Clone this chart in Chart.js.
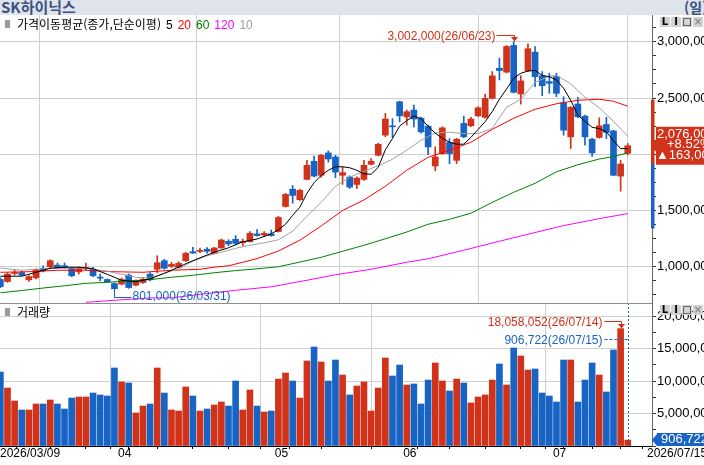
<!DOCTYPE html>
<html lang="ko">
<head>
<meta charset="utf-8">
<title>SK하이닉스</title>
<script src="https://cdn.jsdelivr.net/npm/chart.js@4.4.1/dist/chart.umd.min.js"></script>
<style>
  html, body { margin: 0; padding: 0; }
  body { width: 704px; height: 465px; overflow: hidden; position: relative; background: #fff;
         font-family: 'Liberation Sans', Arial, 'Noto Sans CJK KR', sans-serif; }
  .abs { position: absolute; }
  canvas { position: absolute; left: 0; }
  #titlebar { left: 0; top: 0; width: 704px; height: 15px; background: #dfe4ec; overflow: hidden; }
  #titlebar .name { left: 1px; top: 0; font: bold 15px/14px 'Noto Sans CJK KR', sans-serif; color: #3b5382; white-space: nowrap; }
  #titlebar .period { left: 684px; top: 0; font: bold 14px/14px 'Noto Sans CJK KR', sans-serif; color: #3b5382; white-space: nowrap; }
  .legend { font-size: 12px; line-height: 12px; white-space: nowrap; color: #000; }
  .legend .kr { font-family: 'Noto Sans CJK KR', sans-serif; }
  .legend .n { margin-left: 5px; }
  .sq { width: 5px; height: 8px; background: #9a9a9a; }
  .icon { width: 10px; height: 10px; background: #d2d2d2; font: bold 10px/10px 'DejaVu Sans', sans-serif;
          text-align: center; color: #000; overflow: hidden; }
</style>
</head>
<body>
<div id="titlebar" class="abs"><span class="abs name">SK하이닉스</span><span class="abs period">(일)</span></div>
<canvas id="priceChart" width="704" height="288" style="top:15px"></canvas>
<canvas id="volChart" width="704" height="162" style="top:303px"></canvas>
<div class="abs" style="left:0;top:303px;width:652px;height:1px;background:#8e8e8e"></div>

<div class="abs sq" style="left:5px;top:20px"></div>
<div class="abs legend" style="left:17px;top:18px"><span class="kr">가격이동평균(종가,단순이평)</span><span class="n">5</span><span class="n" style="color:#f00">20</span><span class="n" style="color:#008000">60</span><span class="n" style="color:#f0f">120</span><span class="n" style="color:#a0a0a0">10</span></div>
<div class="abs sq" style="left:5px;top:308px"></div>
<div class="abs legend" style="left:17px;top:306px"><span class="kr">거래량</span></div>

<div class="abs icon" style="left:660px;top:17px">L</div>
<div class="abs icon" style="left:671px;top:17px">I</div>
<div class="abs icon" style="left:682px;top:17px">□</div>
<div class="abs icon" style="left:693px;top:17px;color:#888">×</div>
<div class="abs icon" style="left:660px;top:305px">L</div>
<div class="abs icon" style="left:671px;top:305px">I</div>
<div class="abs icon" style="left:682px;top:305px">□</div>
<div class="abs icon" style="left:693px;top:305px;color:#888">×</div>

<script>
// 거래일 (2026)
const tradingDays = {
  '03': [9,10,11,12,13,16,17,18,19,20,23,24,25,26,27,30,31],
  '04': [1,2,3,6,7,8,9,10,13,14,15,16,17,20,21,22,23,24,27,28,29,30],
  '05': [4,6,7,8,11,12,13,14,15,18,19,20,21,22,26,27,28,29],
  '06': [1,2,4,5,8,9,10,11,12,15,16,17,18,19,22,23,24,25,26,29,30],
  '07': [1,2,3,6,7,8,9,10,13,14,15]
};

const opens = [
  887000, 869000, 940000, 949000, 884000, 902000, 985000, 1000000, 1015000, 1009000,
  985000, 955000, 985000, 979000, 904000, 887000, 851000, 846000, 926000, 837000,
  860000, 935000, 978000, 1054000, 1003000, 994000, 1054000, 1134000, 1137000, 1156000,
  1119000, 1167000, 1226000, 1244000, 1214000, 1223000, 1292000, 1283000, 1292000, 1313000,
  1536000, 1690000, 1596000, 1777000, 1938000, 1813000, 2012000, 1976000, 1813000, 1797000,
  1732000, 1777000, 1911000, 1991000, 2170000, 2250000, 2467000, 2333000, 2393000, 2321000,
  2250000, 1896000, 2005000, 2105000, 1946000, 2274000, 2253000, 2342000, 2328000, 2497000,
  2765000, 2730000, 2967000, 2536000, 2744000, 2908000, 2697000, 2646000, 2690000, 2458000,
  2155000, 2447000, 2339000, 2134000, 2149000, 2265000, 2208000, 1806000, 2009000
];
const highs = [
  902000, 949000, 973000, 960000, 922000, 982000, 1009000, 1062000, 1033000, 1033000,
  995000, 1000000, 1033000, 994000, 935000, 893000, 858000, 900000, 937000, 884000,
  904000, 949000, 1098000, 1067000, 1040000, 1045000, 1128000, 1172000, 1167000, 1170000,
  1174000, 1246000, 1241000, 1277000, 1247000, 1313000, 1330000, 1313000, 1327000, 1449000,
  1652000, 1723000, 1688000, 1946000, 1985000, 2000000, 2030000, 1991000, 1887000, 1808000,
  1799000, 1946000, 1962000, 2098000, 2363000, 2317000, 2473000, 2393000, 2438000, 2330000,
  2259000, 2067000, 2244000, 2140000, 2143000, 2339000, 2328000, 2422000, 2536000, 2735000,
  2855000, 2967000, 3002000, 2699000, 2982000, 2958000, 2735000, 2721000, 2721000, 2512000,
  2424000, 2506000, 2348000, 2143000, 2324000, 2328000, 2214000, 1946000, 2096000
];
const lows = [
  815000, 862000, 926000, 920000, 869000, 893000, 955000, 991000, 985000, 985000,
  911000, 935000, 973000, 911000, 875000, 862000, 801000, 839000, 808000, 830000,
  851000, 875000, 946000, 978000, 994000, 991000, 1045000, 1119000, 1125000, 1122000,
  1116000, 1165000, 1188000, 1196000, 1188000, 1219000, 1272000, 1268000, 1272000, 1308000,
  1530000, 1565000, 1589000, 1772000, 1799000, 1795000, 1931000, 1792000, 1732000, 1696000,
  1694000, 1768000, 1906000, 1985000, 2155000, 2149000, 2288000, 2259000, 2244000, 2188000,
  1997000, 1853000, 2000000, 1917000, 1917000, 2147000, 2246000, 2335000, 2321000, 2491000,
  2661000, 2723000, 2545000, 2446000, 2737000, 2601000, 2521000, 2542000, 2512000, 2170000,
  2051000, 2326000, 2080000, 1982000, 2143000, 2140000, 1808000, 1672000, 1995000
];
const closes = [
  824000, 935000, 949000, 926000, 913000, 973000, 964000, 1054000, 991000, 991000,
  920000, 985000, 994000, 920000, 899000, 866000, 805000, 887000, 815000, 875000,
  890000, 884000, 1036000, 987000, 1021000, 1031000, 1119000, 1122000, 1146000, 1137000,
  1167000, 1238000, 1203000, 1208000, 1226000, 1297000, 1277000, 1297000, 1277000, 1438000,
  1643000, 1634000, 1679000, 1902000, 1806000, 1991000, 1958000, 1842000, 1837000, 1708000,
  1788000, 1902000, 1938000, 2089000, 2313000, 2244000, 2342000, 2378000, 2313000, 2199000,
  2065000, 1976000, 2235000, 2006000, 2134000, 2155000, 2313000, 2413000, 2497000, 2697000,
  2744000, 2958000, 2551000, 2652000, 2938000, 2690000, 2610000, 2631000, 2542000, 2214000,
  2417000, 2333000, 2155000, 2012000, 2253000, 2194000, 1813000, 1913000, 2076000
];
const volumes = [
  11380000, 8920000, 6920000, 5540000, 5540000, 6460000, 6460000, 7080000, 6460000, 5690000,
  7380000, 7540000, 7540000, 8150000, 7850000, 7690000, 12000000, 9850000, 9690000, 5080000,
  6150000, 6460000, 12000000, 8150000, 5540000, 5380000, 9080000, 7690000, 5380000, 5690000,
  6310000, 6770000, 6150000, 10000000, 5540000, 8620000, 6150000, 5230000, 5380000, 10300000,
  11230000, 10000000, 7380000, 13080000, 15230000, 12920000, 10000000, 13230000, 10920000, 7850000,
  9230000, 9850000, 5380000, 8920000, 13540000, 10770000, 12460000, 9380000, 9540000, 6460000,
  10150000, 12770000, 10000000, 8460000, 10300000, 9690000, 6620000, 7540000, 7850000, 10150000,
  12620000, 9380000, 15080000, 13850000, 11690000, 11850000, 8150000, 7690000, 6770000, 13230000,
  13230000, 6770000, 10150000, 12770000, 10920000, 8310000, 14770000, 18058052, 906722
];

// 이동평균선 (그림에서 읽은 값: [봉 index, 값])
const ma5 = [[0,916000],[1,916000],[3,916000],[5,951000],[7,987000],[9,996000],[11,996000],[13,982000],[15,933000],[17,880000],[19,867000],[21,893000],[23,942000],[24,969000],[26,1027000],[28,1080000],[30,1129000],[32,1169000],[34,1222000],[36,1247000],[38,1293000],[39,1329000],[40,1378000],[41,1458000],[42,1529000],[43,1653000],[44,1747000],[45,1813000],[46,1858000],[47,1889000],[48,1889000],[49,1880000],[50,1858000],[51,1827000],[52,1822000],[53,1884000],[54,2040000],[55,2140000],[56,2250000],[57,2300000],[58,2340000],[59,2316000],[60,2249000],[61,2187000],[62,2142000],[63,2107000],[64,2089000],[65,2090000],[66,2150000],[67,2220000],[68,2290000],[69,2380000],[70,2490000],[71,2580000],[72,2675000],[73,2720000],[74,2740000],[75,2745000],[76,2700000],[77,2690000],[78,2660000],[79,2587000],[80,2480000],[81,2347000],[82,2293000],[83,2240000],[84,2228000],[85,2200000],[86,2120000],[87,2050000],[88,2051000]];
const ma10 = [[0,989000],[3,969000],[6,982000],[9,989000],[12,989000],[15,960000],[17,933000],[19,907000],[21,898000],[23,942000],[25,982000],[27,1049000],[29,1098000],[31,1129000],[33,1164000],[35,1191000],[37,1213000],[39,1240000],[41,1316000],[43,1449000],[45,1573000],[47,1716000],[49,1796000],[51,1849000],[53,1898000],[55,1956000],[57,2036000],[59,2124000],[61,2191000],[63,2196000],[65,2184000],[67,2184000],[69,2231000],[71,2418000],[73,2489000],[75,2640000],[77,2693000],[78,2702000],[80,2627000],[82,2507000],[84,2413000],[86,2293000],[88,2160000]];
const ma20 = [[0,951000],[4,956000],[8,969000],[12,969000],[16,956000],[20,951000],[24,969000],[28,978000],[30,996000],[32,1009000],[34,1040000],[36,1073000],[39,1140000],[42,1236000],[45,1363000],[48,1500000],[51,1594000],[54,1716000],[57,1858000],[60,1973000],[63,2036000],[66,2107000],[69,2222000],[72,2320000],[75,2400000],[78,2449000],[81,2480000],[84,2489000],[86,2471000],[88,2427000]];
const ma60 = [[0,769000],[3,789000],[6,811000],[9,831000],[12,853000],[15,862000],[18,874000],[21,886000],[24,907000],[27,924000],[30,947000],[33,966000],[36,982000],[39,1000000],[42,1042000],[45,1084000],[48,1138000],[51,1191000],[54,1249000],[57,1309000],[60,1378000],[63,1422000],[66,1476000],[69,1573000],[72,1662000],[75,1742000],[78,1844000],[81,1907000],[84,1958000],[86,1980000],[88,2013000]];
const ma120 = [[12,684000],[15,698000],[21,723000],[24,724000],[29,762000],[33,791000],[38,822000],[43,880000],[47,929000],[52,978000],[57,1040000],[60,1071000],[65,1147000],[70,1227000],[74,1289000],[79,1366000],[84,1428000],[88,1473000]];

const prevClose = 1913000;
const priceChange = 163000;
const changePct = '+8.52%';
const upperLimit = 2486000;
const lowerLimit = 1340000;

const priceTicksMajor = [1000000, 1500000, 2000000, 2500000, 3000000];
const volTicks = [0, 2500000, 5000000, 7500000, 10000000, 12500000, 15000000, 17500000, 20000000];

const RED = '#d0321a', BLUE = '#1764c4';
const FAMILY = "'Liberation Sans', Arial, sans-serif";
const FONT = "12px " + FAMILY;
const GRID = '#d0d0d0';
const X_MIN = -0.05, X_MAX = 91.4;

const dates = [];
Object.entries(tradingDays).forEach(([m, days]) =>
  days.forEach(d => dates.push(`2026/${m}/${String(d).padStart(2, '0')}`)));
const shortDate = i => dates[i].slice(2);
const fmt = v => v.toLocaleString('en-US');

const monthStarts = dates.map((d, i) => i).filter(i => i > 0 && dates[i].slice(5, 7) !== dates[i - 1].slice(5, 7));
const mondays = dates.map((d, i) => i).filter(i => {
  const [y, m, dd] = dates[i].split('/').map(Number);
  return i > 0 && !monthStarts.includes(i) && new Date(y, m - 1, dd).getDay() === 1;
});

const up = closes.map((c, i) => c >= opens[i]);
const candleColor = up.map(u => u ? RED : BLUE);

const xTicksPrice = monthStarts.map(i => ({ value: i - 0.5, label: '', grid: true }));
const xTicksVol = [
  { value: X_MIN, label: dates[0], grid: false },
  ...monthStarts.map(i => ({ value: i - 0.5, label: dates[i].slice(5, 7), grid: true })),
  ...mondays.map(i => ({ value: i - 0.5, label: '', grid: false })),
  { value: dates.length - 0.5, label: '', grid: false }
].sort((a, b) => a.value - b.value);

const priceMinor = [];
for (let v = 750000; v <= 3125000; v += 125000) priceMinor.push(v);

const line = (data, color) => ({
  type: 'line', data: data.map(([x, y]) => ({ x, y })), borderColor: color,
  borderWidth: 1, pointRadius: 0, tension: 0, fill: false, order: 0
});

// 축 라벨 때문에 생기는 여백 제거
const noPad = s => { s.paddingTop = 0; s.paddingBottom = 0; s.paddingLeft = 0; s.paddingRight = 0; };

function arrowDown(ctx, x, yTip, color) {
  ctx.fillStyle = color;
  ctx.beginPath();
  ctx.moveTo(x - 3.5, yTip - 4.5);
  ctx.lineTo(x + 3.5, yTip - 4.5);
  ctx.lineTo(x, yTip);
  ctx.closePath();
  ctx.fill();
}

function tagBox(ctx, yTip, top, bottom, left, right, color) {
  ctx.fillStyle = color;
  ctx.beginPath();
  ctx.moveTo(left - 5, yTip);
  ctx.lineTo(left, yTip - 6);
  ctx.lineTo(left, top);
  ctx.lineTo(right, top);
  ctx.lineTo(right, bottom);
  ctx.lineTo(left, bottom);
  ctx.lineTo(left, yTip + 6);
  ctx.closePath();
  ctx.fill();
}

const priceDeco = {
  id: 'priceDeco',
  afterDraw(chart) {
    const { ctx, scales: { x, y } } = chart;
    ctx.save();
    ctx.font = FONT;
    ctx.lineWidth = 1;

    // 상/하한가 막대
    const yu = y.getPixelForValue(upperLimit), yp = y.getPixelForValue(prevClose), yl = y.getPixelForValue(lowerLimit);
    ctx.fillStyle = RED; ctx.fillRect(651, yu, 3.5, yp - yu);
    ctx.fillStyle = BLUE; ctx.fillRect(651, yp, 3.5, yl - yp);

    // 최고가
    const hi = highs.indexOf(Math.max(...highs));
    const hx = Math.round(x.getPixelForValue(hi)) + 0.5;
    const hy = y.getPixelForValue(highs[hi]);
    const hly = Math.round(hy - 7) + 0.5;
    ctx.strokeStyle = RED;
    ctx.beginPath(); ctx.moveTo(hx - 18, hly); ctx.lineTo(hx, hly); ctx.lineTo(hx, hy - 4); ctx.stroke();
    arrowDown(ctx, hx, hy, RED);
    ctx.textAlign = 'right'; ctx.textBaseline = 'alphabetic';
    ctx.fillText(`${fmt(highs[hi])}(${shortDate(hi)})`, hx - 19, hy - 2);

    // 최저가
    const lo = lows.indexOf(Math.min(...lows));
    const lx = Math.round(x.getPixelForValue(lo)) + 0.5;
    const ly = y.getPixelForValue(lows[lo]);
    const lly = Math.round(ly + 8) + 0.5;
    ctx.strokeStyle = BLUE; ctx.fillStyle = BLUE;
    ctx.beginPath(); ctx.moveTo(lx, ly); ctx.lineTo(lx, lly); ctx.lineTo(lx + 17, lly); ctx.stroke();
    ctx.textAlign = 'left';
    ctx.fillText(`${fmt(lows[lo])}(${shortDate(lo)})`, lx + 18, lly + 2);

    // 현재가 박스
    const last = closes.length - 1;
    const cy = y.getPixelForValue(closes[last]);
    tagBox(ctx, cy, cy - 19, cy + 19, 656, 704, RED);
    ctx.fillStyle = '#fff'; ctx.textBaseline = 'middle'; ctx.textAlign = 'left';
    ctx.font = "13px " + FAMILY;
    ctx.fillText(fmt(closes[last]), 657, cy - 11.5);
    ctx.fillText(changePct, 667, cy - 1);
    ctx.fillText('▲' + fmt(priceChange), 656, cy + 9.5);
    ctx.restore();
  }
};

const volDeco = {
  id: 'volDeco',
  afterDraw(chart) {
    const { ctx, scales: { x, y }, chartArea } = chart;
    const last = volumes.length - 1;
    const mi = volumes.indexOf(Math.max(...volumes));
    ctx.save();
    ctx.font = FONT;
    ctx.lineWidth = 1;

    const lx = Math.round(x.getPixelForValue(last)) + 0.5;
    ctx.strokeStyle = BLUE; ctx.setLineDash([2, 2]);
    ctx.beginPath(); ctx.moveTo(lx, chartArea.top); ctx.lineTo(lx, chartArea.bottom); ctx.stroke();
    ctx.setLineDash([]);

    const mx = Math.round(x.getPixelForValue(mi)) + 0.5;
    const my = y.getPixelForValue(volumes[mi]);
    const mly = Math.round(my - 7.5) + 0.5;
    ctx.strokeStyle = RED;
    ctx.beginPath(); ctx.moveTo(mx - 17, mly); ctx.lineTo(mx, mly); ctx.lineTo(mx, my - 4); ctx.stroke();
    arrowDown(ctx, mx, my, RED);
    ctx.textAlign = 'right'; ctx.textBaseline = 'alphabetic';
    ctx.fillText(`${fmt(volumes[mi])}(${shortDate(mi)})`, mx - 19, my - 2.5);

    const cly = mly + 18;
    ctx.strokeStyle = BLUE; ctx.fillStyle = BLUE; ctx.setLineDash([3, 2]);
    ctx.beginPath(); ctx.moveTo(mx - 17, cly); ctx.lineTo(lx, cly); ctx.stroke();
    ctx.setLineDash([]);
    ctx.fillText(`${fmt(volumes[last])}(${shortDate(last)})`, mx - 19, cly + 4.5);

    const vy = y.getPixelForValue(volumes[last]);
    tagBox(ctx, vy, chartArea.bottom - 13, chartArea.bottom, 657, 704, BLUE);
    ctx.fillStyle = '#fff'; ctx.textAlign = 'left'; ctx.textBaseline = 'middle';
    ctx.font = "13px " + FAMILY;
    ctx.fillText(fmt(volumes[last]), 661, vy - 1);

    ctx.font = FONT;
    ctx.fillStyle = '#000';
    ctx.fillText(dates[last], 647, chartArea.bottom + 7.5);
    ctx.restore();
  }
};

const baseOptions = {
  responsive: false,
  devicePixelRatio: 1,
  animation: false,
  events: [],
  layout: { padding: 0 },
  plugins: { legend: { display: false }, tooltip: { enabled: false } }
};

new Chart(document.getElementById('priceChart'), {
  type: 'bar',
  data: {
    datasets: [
      line(ma5, '#000000'),
      line(ma10, '#a0a0a0'),
      line(ma20, '#ff0000'),
      line(ma60, '#008000'),
      line(ma120, '#ff00ff'),
      {
        data: opens.map((o, i) => ({ x: i, y: [Math.min(o, closes[i]), Math.max(o, closes[i])] })),
        backgroundColor: candleColor, barThickness: 6, minBarLength: 1, grouped: false, order: 1
      },
      {
        data: lows.map((l, i) => ({ x: i, y: [l, highs[i]] })),
        backgroundColor: candleColor, barThickness: 1, grouped: false, order: 2
      }
    ]
  },
  options: {
    ...baseOptions,
    scales: {
      x: {
        type: 'linear', min: X_MIN, max: X_MAX, bounds: 'data', offset: false,
        grid: { color: GRID, drawTicks: false },
        border: { display: false },
        ticks: { display: false },
        afterBuildTicks: s => { s.ticks = xTicksPrice.map(t => ({ value: t.value })); },
        afterFit: s => { s.height = 0; noPad(s); }
      },
      y: {
        type: 'linear', position: 'right', min: 678000, max: 3238000, bounds: 'data',
        grid: {
          color: c => priceTicksMajor.includes(c.tick && c.tick.value) ? GRID : 'rgba(0,0,0,0)',
          tickColor: '#333', tickLength: 4
        },
        border: { display: true, color: '#666' },
        ticks: {
          autoSkip: false, padding: 1, color: '#000', font: { family: FAMILY, size: 13 },
          callback: v => priceTicksMajor.includes(v) ? fmt(v) : ''
        },
        afterBuildTicks: s => { s.ticks = priceMinor.map(v => ({ value: v })); },
        afterFit: s => { s.width = 52; noPad(s); }
      }
    }
  },
  plugins: [priceDeco]
});

new Chart(document.getElementById('volChart'), {
  type: 'bar',
  data: {
    datasets: [{
      data: volumes.map((v, i) => ({ x: i, y: v })),
      backgroundColor: candleColor, barThickness: 6, grouped: false
    }]
  },
  options: {
    ...baseOptions,
    scales: {
      x: {
        type: 'linear', min: X_MIN, max: X_MAX, bounds: 'data', offset: false,
        grid: {
          color: c => (xTicksVol[c.index] && xTicksVol[c.index].grid) ? GRID : 'rgba(0,0,0,0)',
          tickColor: '#000', tickLength: 3
        },
        border: { display: true, color: '#000' },
        ticks: {
          autoSkip: false, maxRotation: 0, align: 'start', padding: -3, color: '#000',
          font: { family: FAMILY, size: 12 },
          callback: (v, i) => xTicksVol[i] ? xTicksVol[i].label : ''
        },
        afterBuildTicks: s => { s.ticks = xTicksVol.map(t => ({ value: t.value })); },
        afterFit: s => { s.height = 19; noPad(s); }
      },
      y: {
        type: 'linear', position: 'right', min: 0, max: 22000000, bounds: 'data',
        grid: {
          color: c => (c.tick && c.tick.value > 0 && c.tick.value % 5000000 === 0) ? GRID : 'rgba(0,0,0,0)',
          tickColor: '#333', tickLength: 4
        },
        border: { display: true, color: '#666' },
        ticks: {
          autoSkip: false, padding: 1, color: '#000', font: { family: FAMILY, size: 13 },
          callback: v => (v > 0 && v % 5000000 === 0) ? fmt(v) : ''
        },
        afterBuildTicks: s => { s.ticks = volTicks.map(v => ({ value: v })); },
        afterFit: s => { s.width = 52; noPad(s); }
      }
    }
  },
  plugins: [volDeco]
});
</script>
</body>
</html>
